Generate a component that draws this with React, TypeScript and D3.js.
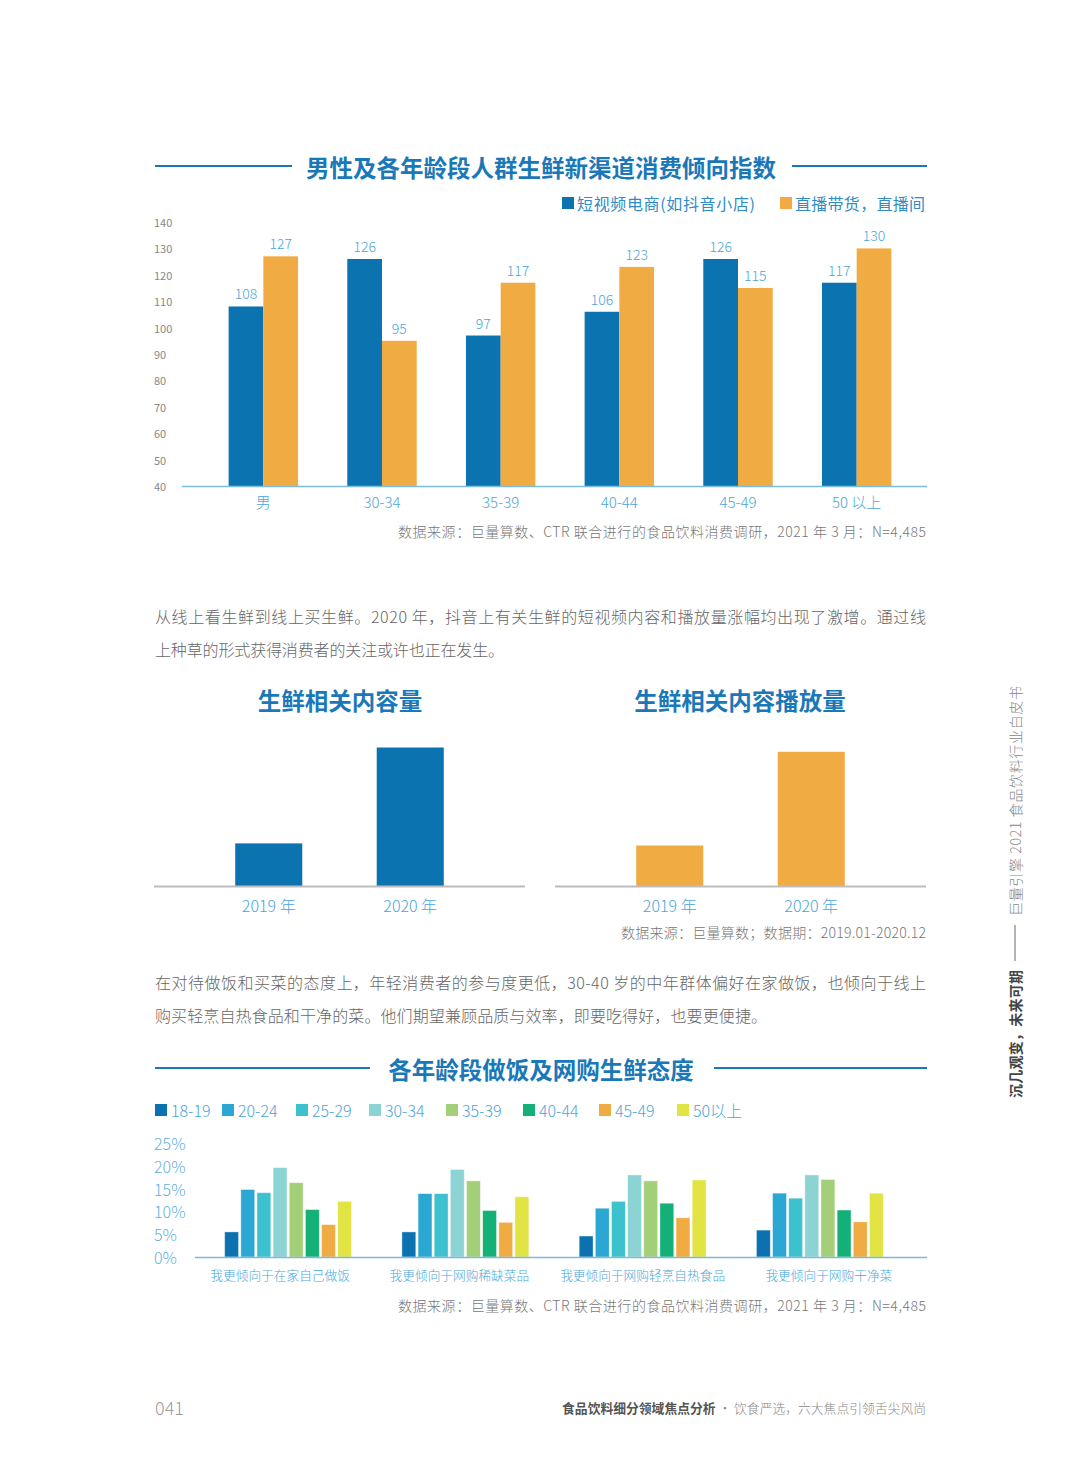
import React from "react";
import * as d3 from "d3";

// ---------- Data ----------
const topCategories = ["男", "30-34", "35-39", "40-44", "45-49", "50 以上"];
const shortVideoIndex = [108, 126, 97, 106, 126, 117];
const liveStreamIndex = [127, 95, 117, 123, 115, 130];
const topTicks = [40, 50, 60, 70, 80, 90, 100, 110, 120, 130, 140];
const topSeriesNames = ["短视频电商(如抖音小店)", "直播带货，直播间"];

const years = ["2019 年", "2020 年"];
const contentVolume = [1, 3.25]; // relative (no values printed)
const playVolume = [0.95, 3.15];

const ageGroups = ["18-19", "20-24", "25-29", "30-34", "35-39", "40-44", "45-49", "50以上"];
const attitudeCategories = [
  "我更倾向于在家自己做饭",
  "我更倾向于网购稀缺菜品",
  "我更倾向于网购轻烹自热食品",
  "我更倾向于网购干净菜",
];
const cookAtHome = [5.5, 14.8, 14.1, 19.6, 16.3, 10.4, 7.1, 12.2];
const buyRareVeg = [5.5, 13.9, 13.9, 19.2, 16.7, 10.2, 7.6, 13.2];
const buySelfHeating = [4.6, 10.7, 12.2, 18.0, 16.7, 11.8, 8.6, 16.9];
const buyCleanVeg = [5.9, 14.0, 12.9, 18.0, 17.0, 10.3, 7.7, 14.0];
const bottomTicks = [0, 5, 10, 15, 20, 25];

// ---------- Styles ----------
const FONT = "'Noto Sans CJK SC', 'Noto Sans', sans-serif";
const TITLE_BLUE = "#1a78b8";
const BLUE = "#0b74b0";
const ORANGE = "#f0ac42";
const LABEL_BLUE = "#4aa6d8";
const GRAY = "#777";
const ageColors = ["#0b72af", "#2aa7d3", "#3cc1cf", "#8cd3d3", "#a3cf78", "#14b077", "#f0ab42", "#e2e444"];

function Title({ x, y, text, left, right }: { x: number; y: number; text: string; left?: [number, number]; right?: [number, number] }) {
  return (
    <g>
      {left && <line x1={left[0]} x2={left[1]} y1={y - 1} y2={y - 1} stroke={TITLE_BLUE} strokeWidth={2} />}
      {right && <line x1={right[0]} x2={right[1]} y1={y - 1} y2={y - 1} stroke={TITLE_BLUE} strokeWidth={2} />}
      <text x={x} y={y} textAnchor="middle" dominantBaseline="central" fontSize={23.5} fontWeight={700} fill={TITLE_BLUE}>
        {text}
      </text>
    </g>
  );
}

export default function App() {
  // Top chart scales
  const xTop = d3.scaleBand<string>().domain(topCategories).range([204, 916]).paddingInner(0.415).paddingOuter(0.2075);
  const xTopInner = d3.scaleBand<number>().domain([0, 1]).range([0, xTop.bandwidth()]);
  const yTop = d3.scaleLinear().domain([40, 140]).range([486, 222]);
  const topSeries = [shortVideoIndex, liveStreamIndex];
  const topColors = [BLUE, ORANGE];

  // Middle charts
  const yMid = d3.scaleLinear().domain([0, 3.25]).range([886, 747.5]);
  const xMidL = d3.scaleBand<string>().domain(years).range([154, 525]).paddingInner(0.526).paddingOuter(0.574);
  const xMidR = d3.scaleBand<string>().domain(years).range([555, 926]).paddingInner(0.526).paddingOuter(0.574);

  // Bottom chart
  const bottomSeries = [cookAtHome, buyRareVeg, buySelfHeating, buyCleanVeg];
  const xBot = d3.scaleBand<string>().domain(attitudeCategories).range([199.5, 908.5]).paddingInner(0.284).paddingOuter(0.142);
  const xBotInner = d3.scaleBand<string>().domain(ageGroups).range([0, xBot.bandwidth()]).paddingInner(0.14);
  const yBot = d3.scaleLinear().domain([0, 25]).range([1257, 1143]);
  const legendX = [155, 222, 296, 369, 446, 523, 599, 677];

  return (
    <svg
      width={1080}
      height={1466}
      viewBox="0 0 1080 1466"
      style={{ position: "absolute", left: 0, top: 0, background: "#fff" }}
      fontFamily={FONT}
    >
      <rect width={1080} height={1466} fill="#fff" />

      {/* ===== Top chart ===== */}
      <Title x={541} y={167} text="男性及各年龄段人群生鲜新渠道消费倾向指数" left={[155, 292]} right={[792, 927]} />
      {/* legend */}
      <rect x={562} y={197} width={12} height={12} fill={BLUE} />
      <text x={577} y={203} dominantBaseline="central" fontSize={16} fill="#2f8cc6" textLength={178} lengthAdjust="spacing">{topSeriesNames[0]}</text>
      <rect x={780} y={197} width={12} height={12} fill={ORANGE} />
      <text x={795} y={203} dominantBaseline="central" fontSize={16} fill="#2f8cc6" textLength={130} lengthAdjust="spacing">{topSeriesNames[1]}</text>

      {topTicks.map((t) => (
        <text key={t} x={154} y={yTop(t)} dominantBaseline="central" fontSize={11} fill="#888">{t}</text>
      ))}
      {topCategories.map((c, i) => (
        <g key={c} transform={`translate(${xTop(c)},0)`}>
          {topSeries.map((s, j) => (
            <g key={j}>
              <rect
                x={xTopInner(j)!}
                y={yTop(s[i])}
                width={xTopInner.bandwidth()}
                height={yTop(40) - yTop(s[i])}
                fill={topColors[j]}
              />
              <text
                x={xTopInner(j)! + xTopInner.bandwidth() / 2}
                y={yTop(s[i]) - 13}
                textAnchor="middle"
                dominantBaseline="central"
                fontSize={14}
                fontWeight={300}
                fill={LABEL_BLUE}
              >
                {s[i]}
              </text>
            </g>
          ))}
          <text x={xTop.bandwidth() / 2} y={501} textAnchor="middle" dominantBaseline="central" fontSize={15} fontWeight={300} fill={LABEL_BLUE}>
            {c}
          </text>
        </g>
      ))}
      <line x1={182} x2={927} y1={486.5} y2={486.5} stroke="#7dbde0" strokeWidth={1.5} />
      <text x={926} y={531} textAnchor="end" dominantBaseline="central" fontSize={14} fontWeight={300} fill={GRAY} textLength={528} lengthAdjust="spacing">
        数据来源：巨量算数、CTR 联合进行的食品饮料消费调研，2021 年 3 月：N=4,485
      </text>

      {/* ===== Paragraph 1 ===== */}
      <text x={155} y={616} dominantBaseline="central" fontSize={16} fontWeight={300} fill="#666" textLength={771} lengthAdjust="spacing">
        从线上看生鲜到线上买生鲜。2020 年，抖音上有关生鲜的短视频内容和播放量涨幅均出现了激增。通过线
      </text>
      <text x={155} y={649} dominantBaseline="central" fontSize={16} fontWeight={300} fill="#666" textLength={349} lengthAdjust="spacing">
        上种草的形式获得消费者的关注或许也正在发生。
      </text>

      {/* ===== Middle charts ===== */}
      <Title x={340} y={700} text="生鲜相关内容量" />
      <Title x={740} y={700} text="生鲜相关内容播放量" />
      {years.map((y, i) => (
        <g key={"l" + y}>
          <rect x={xMidL(y)!} y={yMid(contentVolume[i])} width={xMidL.bandwidth()} height={yMid(0) - yMid(contentVolume[i])} fill={BLUE} />
          <text x={xMidL(y)! + xMidL.bandwidth() / 2} y={905} textAnchor="middle" dominantBaseline="central" fontSize={16} fontWeight={300} fill={LABEL_BLUE}>{y}</text>
        </g>
      ))}
      {years.map((y, i) => (
        <g key={"r" + y}>
          <rect x={xMidR(y)!} y={yMid(playVolume[i])} width={xMidR.bandwidth()} height={yMid(0) - yMid(playVolume[i])} fill={ORANGE} />
          <text x={xMidR(y)! + xMidR.bandwidth() / 2} y={905} textAnchor="middle" dominantBaseline="central" fontSize={16} fontWeight={300} fill={LABEL_BLUE}>{y}</text>
        </g>
      ))}
      <line x1={154} x2={525} y1={886.5} y2={886.5} stroke="#bdbdbd" strokeWidth={2} />
      <line x1={555} x2={926} y1={886.5} y2={886.5} stroke="#bdbdbd" strokeWidth={2} />
      <text x={926} y={932} textAnchor="end" dominantBaseline="central" fontSize={14} fontWeight={300} fill={GRAY} textLength={305} lengthAdjust="spacing">
        数据来源：巨量算数；数据期：2019.01-2020.12
      </text>

      {/* ===== Paragraph 2 ===== */}
      <text x={155} y={982} dominantBaseline="central" fontSize={16} fontWeight={300} fill="#666" textLength={771} lengthAdjust="spacing">
        在对待做饭和买菜的态度上，年轻消费者的参与度更低，30-40 岁的中年群体偏好在家做饭，也倾向于线上
      </text>
      <text x={155} y={1015} dominantBaseline="central" fontSize={16} fontWeight={300} fill="#666" textLength={612} lengthAdjust="spacing">
        购买轻烹自热食品和干净的菜。他们期望兼顾品质与效率，即要吃得好，也要更便捷。
      </text>

      {/* ===== Bottom chart ===== */}
      <Title x={541} y={1069} text="各年龄段做饭及网购生鲜态度" left={[155, 370]} right={[714, 927]} />
      {ageGroups.map((a, i) => (
        <g key={a}>
          <rect x={legendX[i]} y={1104} width={12} height={12} fill={ageColors[i]} />
          <text x={legendX[i] + 16} y={1110} dominantBaseline="central" fontSize={16} fontWeight={300} fill={LABEL_BLUE}>{a}</text>
        </g>
      ))}
      {bottomTicks.map((t) => (
        <text key={t} x={154} y={yBot(t)} dominantBaseline="central" fontSize={16} fontWeight={300} fill="#5fb0de">{t}%</text>
      ))}
      {attitudeCategories.map((c, gi) => (
        <g key={c} transform={`translate(${xBot(c)},0)`}>
          {ageGroups.map((a, i) => (
            <rect
              key={a}
              x={xBotInner(a)!}
              y={yBot(bottomSeries[gi][i])}
              width={xBotInner.bandwidth()}
              height={yBot(0) - yBot(bottomSeries[gi][i])}
              fill={ageColors[i]}
              stroke="#ffffff"
              strokeOpacity={0.5}
              strokeWidth={0.8}
            />
          ))}
          <text x={xBot.bandwidth() / 2 + (gi === 0 ? -8 : gi === 1 ? -6 : gi === 3 ? 9 : 0)} y={1274} textAnchor="middle" dominantBaseline="central" fontSize={12.7} fontWeight={300} fill={LABEL_BLUE}>
            {c}
          </text>
        </g>
      ))}
      <line x1={195} x2={927} y1={1257.5} y2={1257.5} stroke="#7db9d8" strokeWidth={1.5} />
      <text x={926} y={1305} textAnchor="end" dominantBaseline="central" fontSize={14} fontWeight={300} fill={GRAY} textLength={528} lengthAdjust="spacing">
        数据来源：巨量算数、CTR 联合进行的食品饮料消费调研，2021 年 3 月：N=4,485
      </text>

      {/* ===== Footer ===== */}
      <text x={155} y={1407} dominantBaseline="central" fontSize={18} fontWeight={300} fill="#999">041</text>
      <text x={926} y={1407} textAnchor="end" dominantBaseline="central" fontSize={12.8}>
        <tspan fontWeight={700} fill="#555">食品饮料细分领域焦点分析</tspan>
        <tspan fill="#888" fontWeight={300}> · 饮食严选，六大焦点引领舌尖风尚</tspan>
      </text>

      {/* ===== Side vertical text ===== */}
      <g transform="translate(1015,1098) rotate(-90)">
        <text x={0} y={0} dominantBaseline="central" fontSize={14} fontWeight={700} fill="#444" textLength={128} lengthAdjust="spacing">
          沉几观变，未来可期
        </text>
        <line x1={137} x2={173} y1={0} y2={0} stroke="#666" strokeWidth={1} />
        <text x={182} y={0} dominantBaseline="central" fontSize={14} fontWeight={300} fill="#888" textLength={230} lengthAdjust="spacing">
          巨量引擎 2021 食品饮料行业白皮书
        </text>
      </g>
    </svg>
  );
}
